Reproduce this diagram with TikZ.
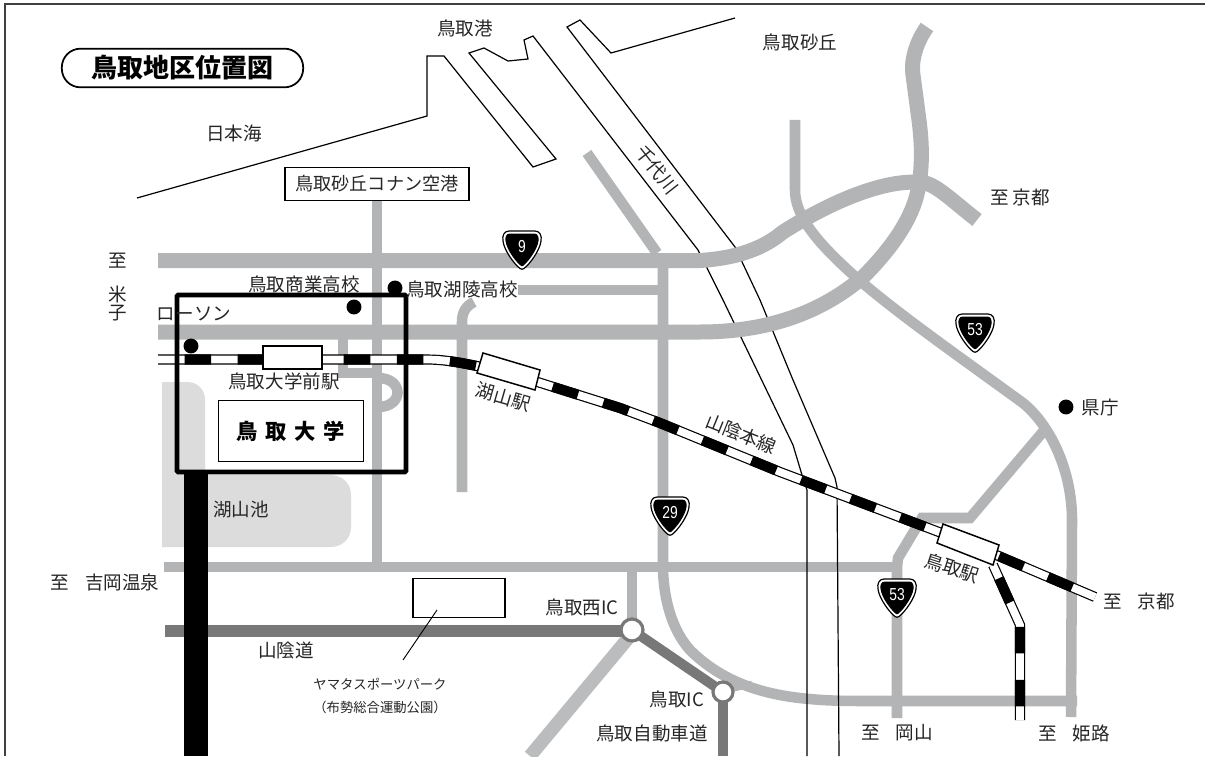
\documentclass[tikz,border=0pt]{standalone}
\usepackage{fontspec}
\setmainfont{Noto Sans CJK JP}
\newfontfamily\numfont{Liberation Sans}
\definecolor{road}{HTML}{B3B4B5}
\definecolor{road2}{HTML}{BBBCBD}
\definecolor{hiway}{HTML}{787878}
\definecolor{lake}{HTML}{DCDCDC}
\definecolor{ink}{HTML}{262626}
\tikzset{
  x=0.75pt,y=-0.75pt,
  rdA/.style={draw=road,line width=11.25pt},
  rdB/.style={draw=road,line width=7.9pt},
  rdC/.style={draw=road2,line width=10pt},
  hw/.style={draw=hiway,line width=7.5pt},
  thin/.style={draw=black,line width=0.9pt,line join=miter},
  railbase/.style={draw=black,line width=7.6pt},
  railwhite/.style={draw=white,line width=5.8pt},
  railblack/.style={draw=black,line width=7.6pt,dash pattern=on 19.9pt off 19.9pt},
  stn/.style={draw=black,fill=white,line width=1.1pt},
  ic/.style={circle,draw=hiway,fill=white,line width=2.4pt,minimum size=16.5pt,inner sep=0pt},
  lbl/.style={inner sep=0pt,text=ink,font=\fontsize{13.9pt}{15pt}\selectfont},
  lblsm/.style={inner sep=0pt,text=ink,font=\fontsize{10pt}{17pt}\selectfont,align=center},
  spot/.style={circle,fill=black,inner sep=0pt,minimum size=11.2pt},
  shieldnum/.style={inner sep=0pt,text=white,font=\numfont\fontsize{13pt}{14pt}\selectfont,xscale=0.8},
}
\newcommand{\shieldat}[4]{%
  \begin{scope}[shift={(#1,#2)}]
    \draw[black,fill=white,line width=0.9pt] (-13,-19) -- (13,-19) .. controls (18,-19) and (20,-14) .. (19,-9) .. controls (18,0) and (8,14) .. (2,18.5) .. controls (1,19.5) and (-1,19.5) .. (-2,18.5) .. controls (-8,14) and (-18,0) .. (-19,-9) .. controls (-20,-14) and (-18,-19) .. (-13,-19) -- cycle;
    \fill[black] (-12,-16.5) -- (12,-16.5) .. controls (16,-16.5) and (17,-13) .. (16.5,-9) .. controls (15.5,-1) and (7,11) .. (1.5,15.5) .. controls (0.5,16.5) and (-0.5,16.5) .. (-1.5,15.5) .. controls (-7,11) and (-15.5,-1) .. (-16.5,-9) .. controls (-17,-13) and (-16,-16.5) .. (-12,-16.5) -- cycle;
    \node[shieldnum] (#4) at (0,-3) {#3};
  \end{scope}}
\newcommand{\railmain}{(158,359.5) -- (425,359.5) .. controls (445,359.5) and (460,362) .. (509,373) -- (620,408) -- (660,423) -- (780,472) -- (968,543) -- (1095,597)}
\newcommand{\railbranch}{(993,565) -- (1020,625) -- (1020,720)}
\begin{document}
\begin{tikzpicture}
\useasboundingbox (0,0) rectangle (1205,756);
\fill[white] (0,0) rectangle (1205,756);
% frame (top and left)
\draw[draw=black!75,line width=1.3pt] (5,756) -- (5,4) -- (1205,4);
% lake
\fill[lake] (162,382) -- (187,382) .. controls (198,382) and (205,390) .. (205,400) -- (205,475) -- (330,475) .. controls (342,475) and (351,483) .. (351,495) -- (351,527) .. controls (351,539) and (342,547) .. (330,547) -- (162,547) -- cycle;
% coast and harbour
\draw[thin] (137,198) -- (427,116) -- (427,56) -- (444,56) -- (533,167) -- (556,159) -- (469,53) -- (484,48) -- (508,61) -- (528,59) -- (524,40) -- (533,36) -- (698,250) -- (723,300) -- (793,445) -- (802,475);
\draw[thin] (735,18) -- (611,53) -- (580,20) -- (567,27) -- (735,247) -- (760,300) -- (793,380) -- (835,478);
% roads
\draw[rdB,line cap=butt] (587,153) -- (657,253);
\draw[rdB] (663,258) -- (663,570) .. controls (664,600) and (672,630) .. (690,650) .. controls (720,680) and (760,695) .. (810,699) .. controls (830,701) and (850,701) .. (870,701) -- (1077,701);
\draw[rdB] (518,290) -- (663,290);
\draw[rdB] (377,200) -- (377,562);
\draw[rdB] (462,492) -- (462,322) .. controls (462,312) and (466,306) .. (474,302);
\draw[rdB] (343,328) -- (343,373) -- (378,373);
\draw[rdB] (378,378) .. controls (404,378) and (404,407) .. (378,407);
\draw[rdB] (795,120) -- (795,190) .. controls (795,215) and (815,240) .. (850,272) .. controls (890,308) and (950,350) .. (1023,403) .. controls (1050,425) and (1072,470) .. (1072,520) -- (1071,717);
\draw[rdB] (1047,427) -- (970,518) -- (922,518) -- (898,558) -- (897,567) -- (897,718);
\draw[rdB] (164,567) -- (898,567);
\draw[rdB] (632,570) -- (632,628);
\draw[rdC] (630,636) -- (530,756);
\draw[rdB,line width=5pt] (730,689) -- (752,684);
\draw[rdA] (158,260.5) -- (700,260.5) .. controls (740,258) and (765,247) .. (783,232) .. controls (805,218) and (830,205) .. (850,197) .. controls (880,185) and (905,180) .. (925,183) .. controls (938,186) and (955,203) .. (977,220);
\draw[rdA] (927,27) .. controls (914,45) and (911,65) .. (913,75) .. controls (915,90) and (917,105) .. (918,113) .. controls (922,140) and (923,165) .. (918,190) .. controls (912,220) and (890,250) .. (863,277) .. controls (830,305) and (780,332) .. (700,332) -- (158,332);
% lower course of the river lies over the roads
\draw[thin] (802,475) -- (807,490) -- (807,756);
\draw[thin] (835,478) -- (837,487) -- (839,756);
% expressway
\draw[hw,line width=9.6pt] (165,631) -- (632,631);
\draw[hw] (632,630) -- (723,692);
\draw[hw] (723,692) -- (723,756);
\node[ic] (icw) at (632,630) {};
\node[ic,minimum size=15pt] (ict) at (723,692) {};
% railway
\draw[railbase] \railmain;
\draw[railwhite] \railmain;
\draw[railblack,dash phase=19.9pt] \railmain;
\draw[railbase] \railbranch;
\draw[railwhite] \railbranch;
\draw[railblack,dash phase=28.9pt] \railbranch;
% stations
\node[stn,minimum width=44pt,minimum height=17pt,inner sep=0pt] (daimae) at (292.5,357.5) {};
\draw[stn] (483,353) -- (540,370) -- (535,390) -- (477,373) -- cycle;
\draw[stn] (943,524) -- (999,545) -- (993,565) -- (937,543) -- cycle;
% university
\fill[black] (184,472) rectangle (208,756);
\node[draw=black,line width=0.9pt,fill=white,minimum width=109pt,minimum height=46pt,inner sep=0pt,text=black,font=\fontsize{16pt}{18pt}\selectfont\bfseries] (univ) at (291,431) {鳥\hspace{0.36em}取\hspace{0.36em}大\hspace{0.36em}学};
\draw[black,line width=3.6pt,rounded corners=1pt] (177,295) rectangle (406,472);
% dots
\node[spot] (d1) at (395,288) {};
\node[spot] (d2) at (354,307) {};
\node[spot] (d3) at (191,346) {};
\node[spot] (d4) at (1066,407) {};
% shields
\shieldat{522}{250}{9}{s9}
\shieldat{975}{333}{53}{s53a}
\shieldat{670}{516}{29}{s29}
\shieldat{897}{598}{53}{s53b}
% title
\node[draw=black,line width=1.3pt,rounded corners=14pt,minimum width=181pt,minimum height=29pt,inner sep=0pt,text=black,font=\fontsize{19.5pt}{21pt}\selectfont\bfseries] (title) at (182.5,68) {鳥取地区位置図};
% airport
\node[draw=black,line width=0.9pt,fill=white,minimum width=138pt,minimum height=25pt,inner sep=0pt,text=ink,font=\fontsize{13.6pt}{15pt}\selectfont] (airport) at (377,184) {鳥取砂丘コナン空港};
% park
\node[draw=black,line width=1pt,minimum width=69pt,minimum height=29pt,inner sep=0pt] (park) at (459,598) {};
\node[lblsm] (parklbl) at (380,696) {ヤマタスポーツパーク\\（布勢総合運動公園）};
\coordinate (leadA) at (437,610);
\coordinate (leadB) at (403,660);
\draw[black,line width=0.7pt] (leadA) -- (leadB);
% labels
\node[lbl] (a1) at (465,28) {鳥取港};
\node[lbl] (a2) at (800,42) {鳥取砂丘};
\node[lbl] (a3) at (234,133) {日本海};
\node[lbl] (a4) at (118,261) {至};
\node[lbl] (a5) at (118,294) {米};
\node[lbl] (a6) at (118,313) {子};
\node[lbl] (a7) at (304,284) {鳥取商業高校};
\node[lbl] (a8) at (462,289) {鳥取湖陵高校};
\node[lbl] (a9) at (194,314) {ローソン};
\node[lbl] (a10) at (284,381) {鳥取大学前駅};
\node[lbl,rotate=-16] (a11) at (503,397) {湖山駅};
\node[lbl] (a12) at (241,509) {湖山池};
\node[lbl,rotate=-52] (a13) at (657,170) {千代川};
\node[lbl,rotate=-22] (a14) at (741,434) {山陰本線};
\node[lbl] (a15) at (1100,407) {県庁};
\node[lbl,rotate=-18] (a16) at (952,568) {鳥取駅};
\node[lbl] (a17) at (1139,601) {至\hspace{0.85em}京都};
\node[lbl] (a18) at (1020,197) {至 京都};
\node[lbl] (a19) at (105,582) {至\hspace{0.85em}吉岡温泉};
\node[lbl] (a20) at (582,607) {鳥取西IC};
\node[lbl] (a21) at (286,650) {山陰道};
\node[lbl] (a22) at (677,699) {鳥取IC};
\node[lbl] (a23) at (652,733) {鳥取自動車道};
\node[lbl] (a24) at (897,733) {至\hspace{0.85em}岡山};
\node[lbl] (a25) at (1074,733) {至\hspace{0.85em}姫路};
\end{tikzpicture}
\end{document}
